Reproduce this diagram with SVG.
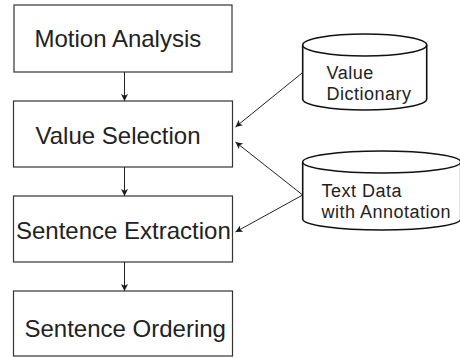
<svg xmlns="http://www.w3.org/2000/svg" width="460" height="358" viewBox="0 0 460 358">
  <defs>
    <marker id="arrow" viewBox="0 0 10 10" refX="10" refY="5" markerWidth="7" markerHeight="7" markerUnits="userSpaceOnUse" orient="auto">
      <path d="M0,0 L10,5 L0,10 L2.5,5 Z" fill="#1a1a1a"/>
    </marker>
  </defs>
  <style>
    .box { fill: #ffffff; stroke: #333333; stroke-width: 1.2; }
    .db { fill: #ffffff; stroke: #111111; stroke-width: 1.6; }
    .label { font-family: "Liberation Sans", Arial, sans-serif; font-size: 24px; fill: #222222; }
    .dblabel { font-family: "Liberation Sans", Arial, sans-serif; font-size: 18px; letter-spacing: 0.5px; fill: #222222; }
    .edge { stroke: #222222; stroke-width: 1; fill: none; marker-end: url(#arrow); }
  </style>
  <rect width="460" height="358" fill="#ffffff"/>

  <!-- process steps -->
  <g id="motion-analysis">
    <rect class="box" x="14" y="5" width="218" height="67"/>
    <text class="label" x="34.5" y="47">Motion Analysis</text>
  </g>
  <g id="value-selection">
    <rect class="box" x="13.5" y="101" width="219" height="66"/>
    <text class="label" x="35.5" y="143.5">Value Selection</text>
  </g>
  <g id="sentence-extraction">
    <rect class="box" x="13.5" y="196" width="219" height="66"/>
    <text class="label" x="16" y="238.5">Sentence Extraction</text>
  </g>
  <g id="sentence-ordering">
    <rect class="box" x="13.5" y="291" width="219" height="65"/>
    <text class="label" x="24.5" y="336.5">Sentence Ordering</text>
  </g>

  <!-- data stores -->
  <g id="value-dictionary">
    <path class="db" d="M302.7,45 L302.7,99 A62,11 0 0 0 426.7,99 L426.7,45"/>
    <ellipse class="db" cx="364.7" cy="45" rx="62" ry="11"/>
    <text class="dblabel"><tspan x="326.5" y="79">Value</tspan><tspan x="326.5" y="100">Dictionary</tspan></text>
  </g>
  <g id="text-data">
    <path class="db" d="M302.7,162 L302.7,219 A79,11 0 0 0 460.7,219 L460.7,162"/>
    <ellipse class="db" cx="381.7" cy="162" rx="79" ry="11"/>
    <text class="dblabel"><tspan x="321.5" y="196.5">Text Data</tspan><tspan x="321.5" y="217.5">with Annotation</tspan></text>
  </g>

  <!-- connectors -->
  <g id="connectors">
    <line class="edge" x1="124.5" y1="72" x2="124.5" y2="101"/>
    <line class="edge" x1="124.5" y1="167" x2="124.5" y2="196"/>
    <line class="edge" x1="124.5" y1="262" x2="124.5" y2="291"/>
    <line class="edge" x1="302.7" y1="72.5" x2="235.5" y2="127"/>
    <line class="edge" x1="302.7" y1="195" x2="235.5" y2="142"/>
    <line class="edge" x1="302.7" y1="195" x2="235.5" y2="232"/>
  </g>
</svg>
